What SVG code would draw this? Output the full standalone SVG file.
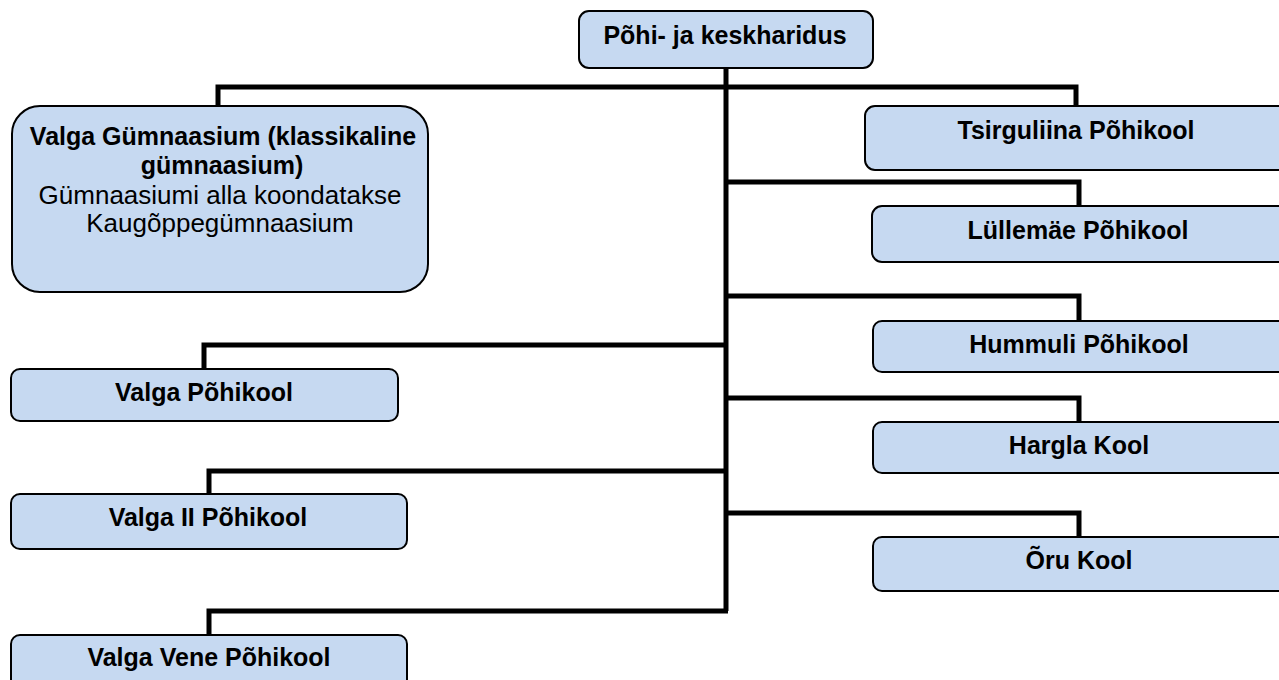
<svg xmlns="http://www.w3.org/2000/svg" width="1279" height="680" viewBox="0 0 1279 680">
<style>
.box{fill:#C6D9F1;stroke:#000;stroke-width:2}
.t{font-family:"Liberation Sans",Arial,sans-serif;font-size:25px;font-weight:bold;fill:#000;text-anchor:middle}
.r{font-family:"Liberation Sans",Arial,sans-serif;font-size:26px;fill:#000;text-anchor:middle}
.c{fill:none;stroke:#000;stroke-width:5;stroke-linejoin:miter}
</style>
<rect width="1279" height="680" fill="#fff"/>
<g id="connectors">
<path class="c" d="M726 68 V611"/>
<path class="c" d="M218 106 V87 H1076 V106"/>
<path class="c" d="M726 182 H1079 V206"/>
<path class="c" d="M726 296 H1079 V321"/>
<path class="c" d="M726 398 H1079 V422"/>
<path class="c" d="M726 513 H1079 V537"/>
<path class="c" d="M204 369 V345 H726"/>
<path class="c" d="M209 494 V471 H726"/>
<path class="c" d="M209 635 V611 H728"/>
</g>
<g id="n-root">
<rect class="box" x="579" y="11" width="294" height="57" rx="10"/>
<text class="t" x="725" y="44">Põhi- ja keskharidus</text>
</g>
<g id="n-gymn">
<rect class="box" x="12" y="106" width="416" height="186" rx="28"/>
<text class="t" x="223" y="145">Valga Gümnaasium (klassikaline</text>
<text class="t" x="222" y="174">gümnaasium)</text>
<text class="r" x="220" y="204">Gümnaasiumi alla koondatakse</text>
<text class="r" x="220" y="232">Kaugõppegümnaasium</text>
</g>
<g id="n-tsirguliina">
<rect class="box" x="865" y="106" width="424" height="64" rx="10"/>
<text class="t" x="1076" y="139">Tsirguliina Põhikool</text>
</g>
<g id="n-lullemae">
<rect class="box" x="872" y="206" width="418" height="56" rx="10"/>
<text class="t" x="1078" y="239">Lüllemäe Põhikool</text>
</g>
<g id="n-hummuli">
<rect class="box" x="873" y="321" width="418" height="51" rx="9"/>
<text class="t" x="1079" y="353">Hummuli Põhikool</text>
</g>
<g id="n-hargla">
<rect class="box" x="873" y="422" width="418" height="51" rx="9"/>
<text class="t" x="1079" y="454">Hargla Kool</text>
</g>
<g id="n-oru">
<rect class="box" x="873" y="537" width="418" height="54" rx="9"/>
<text class="t" x="1079" y="569">Õru Kool</text>
</g>
<g id="n-valga-pk">
<rect class="box" x="11" y="369" width="387" height="52" rx="9"/>
<text class="t" x="204" y="401">Valga Põhikool</text>
</g>
<g id="n-valga-ii">
<rect class="box" x="11" y="494" width="396" height="55" rx="9"/>
<text class="t" x="208" y="526">Valga II Põhikool</text>
</g>
<g id="n-valga-vene">
<rect class="box" x="11" y="635" width="396" height="55" rx="9"/>
<text class="t" x="209" y="666">Valga Vene Põhikool</text>
</g>
</svg>
